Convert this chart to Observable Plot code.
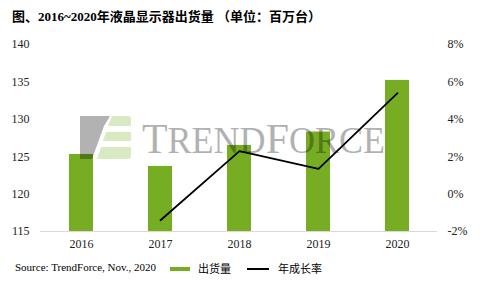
<!DOCTYPE html>
<html>
<head>
<meta charset="utf-8">
<script src="https://cdn.jsdelivr.net/npm/d3@7"></script>
<script src="https://cdn.jsdelivr.net/npm/@observablehq/plot@0.6"></script>
<style>
  html, body { margin: 0; padding: 0; background: #fff; }
  #wrap { position: relative; width: 481px; height: 282px; overflow: hidden; }
  #title { position: absolute; left: 12px; top: 6px; font-family: "Times New Roman", "Liberation Serif", "Noto Sans CJK SC", serif; font-weight: bold; font-size: 13px; color: #000; white-space: nowrap; }
  #chart { position: absolute; left: 0; top: 30px; }
  #legend { position: absolute; left: 0; top: 259px; width: 481px; height: 20px; font-size: 11px; color: #000; }
  #legend span { position: absolute; white-space: nowrap; }
  .serif { font-family: "Times New Roman", "Liberation Serif", serif; }
  .cjk { font-family: "Noto Sans CJK SC", sans-serif; }
</style>
</head>
<body>
<div id="wrap">
  <div id="title">图、2016~2020年液晶显示器出货量 （单位：百万台）</div>
  <div id="chart"></div>
  <div id="legend">
    <span class="serif" style="left:15px; top:2px; font-size:11px;">Source: TrendForce, Nov., 2020</span>
    <span style="left:170px; top:8px; width:20px; height:4px; background:#76ad22;"></span>
    <span class="cjk" style="left:198px; top:1px; font-size:11px;">出货量</span>
    <span style="left:247px; top:9px; width:22px; height:2px; background:#000;"></span>
    <span class="cjk" style="left:278px; top:1px; font-size:11px;">年成长率</span>
  </div>
</div>
<script>
const years = ["2016", "2017", "2018", "2019", "2020"];
const shipments = [125.3, 123.7, 126.5, 128.3, 135.2];
const growthYears = ["2017", "2018", "2019", "2020"];
const growth = [-1.4, 2.3, 1.35, 5.4];
const leftTicks = [115, 120, 125, 130, 135, 140];
const rightTicks = [-2, 0, 2, 4, 6, 8];

// map growth (%) onto the left scale: -2%..8% <-> 115..140
const toLeft = p => 115 + (p + 2) * 2.5;
const fromLeft = v => Math.round((v - 115) / 2.5 - 2);

const bars = years.map((y, i) => ({year: y, value: shipments[i]}));
const line = growthYears.map((y, i) => ({year: y, g: growth[i]}));

const tickFont = "Times New Roman, Liberation Serif, serif";

const plot = Plot.plot({
  width: 481,
  height: 225,
  marginLeft: 40,
  marginRight: 44,
  marginTop: 14,
  marginBottom: 24,
  style: `font-family: ${tickFont}; font-size: 12px; color: #222; background: transparent;`,
  x: {domain: years, paddingInner: 0.7, paddingOuter: 0.35, label: null},
  y: {domain: [115, 140], label: null},
  marks: [
    Plot.barY(bars, {x: "year", y1: 115, y2: "value", fill: "#76ad22"}),
    Plot.ruleY([115], {stroke: "#d9d9d9", strokeWidth: 1}),
    Plot.line(line, {x: "year", y: d => toLeft(d.g), stroke: "#000", strokeWidth: 1.8}),
    Plot.axisX({tickSize: 0, tickPadding: 8, fontSize: 12, fontFamily: tickFont, label: null}),
    Plot.axisY({anchor: "left", ticks: leftTicks, tickSize: 0, tickPadding: 11, fontSize: 12, fontFamily: tickFont, label: null}),
    Plot.axisY({anchor: "right", ticks: rightTicks.map(toLeft), tickFormat: v => fromLeft(v) + "%", tickSize: 0, tickPadding: 10, fontSize: 12, fontFamily: tickFont, label: null})
  ]
});
document.getElementById("chart").appendChild(plot);

// TrendForce watermark (decoration)
const svg = d3.select(plot);
const wm = svg.append("g").attr("pointer-events", "none");
wm.append("path").attr("d", "M80,86 L110,86 L104,96 L92,129 L80,129 Z").attr("fill", "#000").attr("opacity", 0.3);
wm.append("path").attr("d", "M112,86 L128,86 Q131,86 131,89 L131,96 L108,96 Z").attr("fill", "#b9d98f").attr("opacity", 0.55);
wm.append("path").attr("d", "M106,102 L131,102 L131,111 L103,111 Z").attr("fill", "#b9d98f").attr("opacity", 0.55);
wm.append("path").attr("d", "M101,117 L131,117 L131,126 Q131,129 128,129 L97,129 Z").attr("fill", "#b9d98f").attr("opacity", 0.55);
const t = wm.append("text")
  .attr("x", 142).attr("y", 123)
  .attr("text-anchor", "start")
  .attr("font-family", "Times New Roman, Liberation Serif, serif")
  .attr("fill", "#000").attr("opacity", 0.3)
  .attr("textLength", 243).attr("lengthAdjust", "spacingAndGlyphs");
[["T", 43], ["REND", 37], ["F", 43], ["ORCE", 37]].forEach(([s, fs]) => t.append("tspan").attr("font-size", fs).text(s));
</script>
</body>
</html>
